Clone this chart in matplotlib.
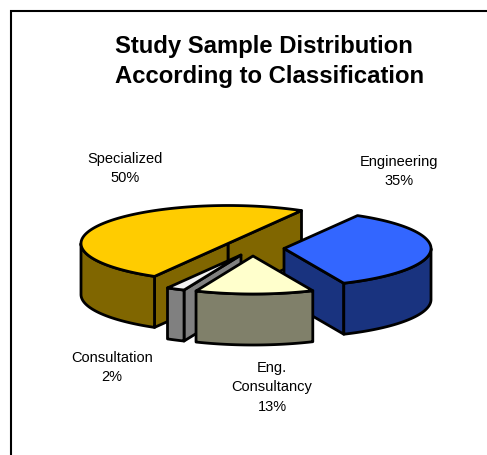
import numpy as np
import matplotlib
matplotlib.use('Agg')
import matplotlib.pyplot as plt
from matplotlib.patches import Polygon

# Slices, clockwise from the back right of the pie
labels = ['Engineering', 'Eng.\nConsultancy', 'Consultation', 'Specialized']
values = [35, 13, 2, 50]

top_colors = ['#3366FF', '#FFFFCC', '#F2F2F2', '#FFCC00']
side_colors = ['#19337F', '#80806A', '#808080', '#806600']

# Pixel position of each exploded slice's tip, and where its label sits
centers = [(284, 248.5), (253, 256), (241, 255), (228, 243.5)]
label_pos = [(399, 171.5), (272, 387.5), (112, 367.5), (125, 168.5)]
draw_order = [3, 0, 2, 1]

RX, RY = 147, 38   # ellipse radii of the pie top
DEPTH = 51         # height of the pie
START = 60         # angle of the first slice edge
LW = 2.0

plt.rcParams['font.family'] = ['Liberation Sans', 'DejaVu Sans']

fig = plt.figure(figsize=(4.87, 4.55), dpi=100)
ax = fig.add_axes([0, 0, 1, 1])
ax.set_xlim(0, 487)
ax.set_ylim(455, 0)
ax.axis('off')


def rim(cx, cy, t):
    return np.column_stack([cx + RX * np.cos(t), cy - RY * np.sin(t)])


def face(pts, color, z):
    ax.add_patch(Polygon(pts, closed=True, facecolor=color, edgecolor='black',
                         linewidth=LW, joinstyle='round', zorder=z))


# Slice angles come from the values
edges = START - np.cumsum([0] + values) * 3.6

for z, i in enumerate(draw_order):
    cx, cy = centers[i]
    hi, lo = np.radians(edges[i]), np.radians(edges[i + 1])
    t = np.linspace(lo, hi, 361)
    z = z * 10 + 2
    tip = np.array([[cx, cy]])
    down = np.array([0, DEPTH])

    # Cut faces that turn towards the viewer
    for ang, visible in ((lo, np.cos(lo) > 0), (hi, np.cos(hi) < 0)):
        if visible:
            p = rim(cx, cy, np.array([ang]))
            face(np.vstack([tip, p, p + down, tip + down]), side_colors[i], z)

    # Outer wall, front half of the rim only
    front = t[np.sin(t) <= 1e-9]
    if len(front):
        p = rim(cx, cy, front)
        face(np.vstack([p, (p + down)[::-1]]), side_colors[i], z + 1)

    # Top of the slice
    face(np.vstack([tip, rim(cx, cy, t)]), top_colors[i], z + 2)

for name, val, (x, y) in zip(labels, values, label_pos):
    ax.text(x, y, f'{name}\n{val}%', ha='center', va='center', fontsize=10.5,
            linespacing=1.52, color='black', zorder=100)

ax.text(115, 61.5, 'Study Sample Distribution\nAccording to Classification',
        ha='left', va='center', fontsize=17.2, fontweight='bold',
        linespacing=1.43, color='black', zorder=100)

# Frame along the top and left
ax.plot([11, 11, 487], [455, 11, 11], color='black', linewidth=1.5,
        solid_joinstyle='miter', zorder=100)

fig.savefig('out.png', dpi=100)
